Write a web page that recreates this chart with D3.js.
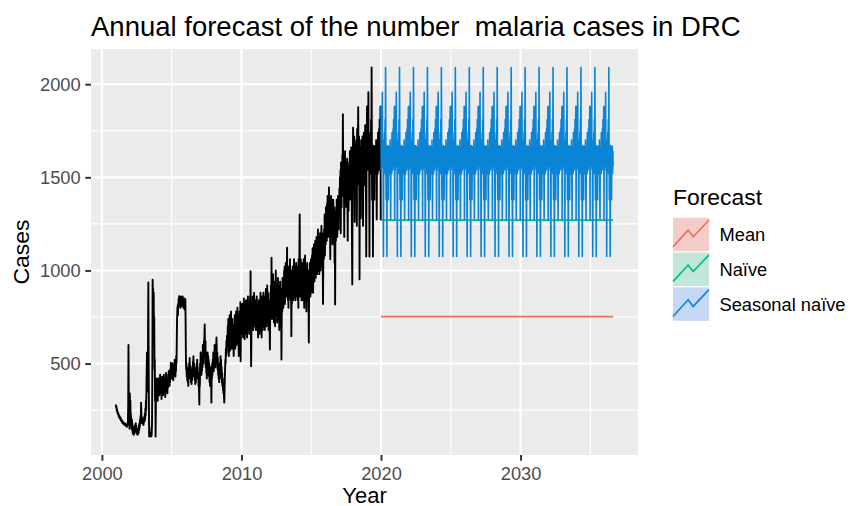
<!DOCTYPE html>
<html>
<head>
<meta charset="utf-8">
<script src="https://cdn.jsdelivr.net/npm/d3@7"></script>
<style>
  html, body { margin: 0; padding: 0; background: #ffffff; }
  svg { display: block; font-family: "Liberation Sans", Arial, sans-serif; }
</style>
</head>
<body>
<svg id="chart" width="850" height="506"></svg>
<script>
// Weekly malaria cases in the DRC, one array per year (52 weeks each)
const startYear = 2001;
const weeksPerYear = 52;

const cases2001 = [280,265,270,250,255,240,245,230,236,225,230,215,222,
  210,218,205,212,200,208,195,200,190,196,185,192,180,
  188,178,185,175,182,172,180,170,176,168,175,165,172,
  162,170,160,175,168,182,190,280,600,350,240,180,150];
const cases2002 = [340,260,300,200,230,170,190,150,200,140,175,125,160,
  120,150,118,140,125,160,135,170,140,180,150,165,130,
  150,120,140,118,135,122,150,130,170,145,180,160,200,
  175,220,190,290,240,200,180,210,185,200,175,190,170];
const cases2003 = [200,185,215,190,230,200,260,220,300,250,380,470,560,
  420,500,350,700,935,600,300,108,160,120,110,130,115,
  120,108,125,112,140,200,500,950,860,900,700,880,600,
  750,470,520,300,400,108,250,380,320,420,360,400,350];
const cases2004 = [300,380,340,420,360,400,330,390,350,440,380,420,340,
  400,310,380,350,430,370,410,330,390,360,440,380,420,
  350,400,320,380,360,450,390,420,360,410,340,400,370,
  440,390,460,410,430,380,450,400,470,420,505,440,480];
const cases2005 = [420,470,450,500,430,480,410,460,440,490,470,520,450,
  500,430,480,460,540,505,620,737,780,808,760,820,800,
  850,830,862,810,845,830,850,800,860,820,845,835,855,
  810,840,860,830,850,800,845,820,850,790,830,800,845];
const cases2006 = [700,539,470,500,430,480,410,460,400,450,380,470,420,
  500,440,530,460,490,420,470,400,440,390,460,410,480,
  430,510,450,540,470,500,430,480,410,460,390,440,400,
  470,420,500,440,520,460,480,420,450,380,420,350,280];
const cases2007 = [420,380,500,450,560,480,520,440,500,460,540,480,600,
  520,580,500,620,560,650,710,600,540,620,480,560,450,
  520,420,500,440,560,480,540,470,520,430,500,400,470,
  380,450,400,480,420,290,460,420,500,440,520,480,560];
const cases2008 = [520,460,560,500,600,540,580,480,560,520,600,640,560,
  500,560,470,530,440,500,420,480,400,460,420,500,450,
  540,480,520,430,480,400,450,380,420,360,400,340,380,
  320,290,360,420,470,520,500,580,540,620,560,650,600];
const cases2009 = [600,700,620,740,660,540,700,600,760,680,570,720,630,
  780,690,580,680,600,740,650,710,580,680,540,650,700,
  600,760,670,580,720,620,780,690,600,740,650,800,700,
  620,760,670,540,720,640,780,690,580,830,512,700,760];
const cases2010 = [660,780,700,820,680,760,640,800,720,850,680,780,630,
  820,700,760,660,840,740,680,800,640,780,700,860,720,
  800,680,760,660,820,720,860,760,996,680,485,640,760,
  680,820,720,860,760,680,820,740,880,780,700,840,760];
const cases2011 = [740,840,680,800,700,860,760,680,820,720,640,800,700,
  840,740,660,780,680,820,880,720,800,700,640,780,860,
  740,680,820,720,880,760,700,860,780,680,760,840,720,
  900,780,700,860,740,920,800,720,880,760,680,840,740];
const cases2012 = [800,680,575,760,880,780,920,740,1068,800,960,740,880,
  800,980,760,900,720,940,780,880,700,920,800,1000,840,
  760,920,800,720,900,780,960,840,740,920,800,680,880,
  760,940,820,740,900,780,522,740,880,780,960,840,920];
const cases2013 = [800,940,840,1000,880,1020,820,960,860,1040,900,980,860,
  960,1122,880,1000,840,960,800,1020,900,860,980,880,1060,
  920,840,1000,880,647,920,820,980,860,1020,900,840,1000,
  880,1060,940,860,1020,900,840,980,860,1040,920,860,1000];
const cases2014 = [880,1020,840,980,800,1060,880,1000,1100,1301,980,860,980,
  1060,880,1000,840,1040,920,860,1020,900,840,980,1060,880,
  800,1000,880,1080,920,840,1020,900,780,980,860,1040,920,
  840,1000,880,820,613,880,980,860,1040,920,860,1000,1060];
const cases2015 = [880,1020,920,1080,960,1120,1000,880,1100,980,1140,1020,940,
  1120,980,1160,1040,960,1140,1020,1180,1060,980,1160,1040,1220,
  1080,1000,1180,1060,980,1160,1040,1200,1080,1000,1170,1060,1240,
  1100,1020,1200,1080,1000,820,1080,1180,1060,1220,1120,1301,1080];
const cases2016 = [1180,1300,1140,1340,1200,1320,1160,1360,1240,1400,1260,1180,1360,
  1240,1446,1280,1200,1380,1260,1060,1360,1240,1400,1280,1200,1380,
  1260,1140,1340,1220,1380,1260,1180,1340,1220,1040,1320,817,1180,
  1300,1160,1340,1220,1380,1260,1180,1360,1240,1400,1280,1220,1380];
const cases2017 = [1280,1440,1320,1500,1360,1540,1200,1580,1440,1340,1520,1400,1620,
  1460,1839,1530,1400,1600,1460,1180,1560,1420,1640,1480,1380,1580,
  1440,1340,1540,1400,1600,1460,1160,1560,1420,1320,1520,1380,1580,
  1440,1640,1480,1380,1580,1440,1660,1500,1400,1100,925,1380,1580];
const cases2018 = [1767,1480,1660,1420,1720,1540,1260,1680,1500,1400,1620,1480,1700,
  1540,1240,1760,1580,1480,1700,1876,1580,1460,1720,1540,952,1480,
  1660,1420,1620,1280,1700,1520,1420,1640,1500,1720,1560,1240,1660,
  1520,1740,1580,1460,1680,1540,1780,1600,1480,1400,1075,1540,1720];
const cases2019 = [1880,1540,1820,1600,1700,1957,1560,1660,1520,1075,1600,1700,1540,
  1740,1600,1810,1520,2090,1620,1380,1660,1540,1075,1580,1670,1510,
  1640,1380,1600,1540,1667,1520,1640,1560,1700,1530,1274,1620,1540,
  1660,1520,1740,1580,1650,1540,1760,1600,1810,1560,1700,1880,1270];

// Forecast settings
const horizonWeeks = 866;
const meanForecast = 752;     // mean of the history
const naiveForecast = 1270;   // last observed week

const methods = ["Mean", "Naïve", "Seasonal naïve"];
const methodColors = ["#EE6E60", "#00BF7D", "#0A84D4"];
const methodFills = ["rgba(248,118,109,0.3)", "rgba(0,191,125,0.2)", "rgba(97,156,255,0.3)"];

const xTicks = [2000, 2010, 2020, 2030];
const yTicks = [500, 1000, 1500, 2000];

const titleText = "Annual forecast of the number  malaria cases in DRC";
const xTitle = "Year";
const yTitle = "Cases";
const legendTitle = "Forecast";

// ---- assemble series ----
const observed = [].concat(cases2001, cases2002, cases2003, cases2004, cases2005,
  cases2006, cases2007, cases2008, cases2009, cases2010, cases2011, cases2012,
  cases2013, cases2014, cases2015, cases2016, cases2017, cases2018, cases2019);
const nObs = observed.length;
const timeOf = i => startYear + i / weeksPerYear;

const history = observed.map((v, i) => ({ t: timeOf(i), v }));
const lastSeason = observed.slice(nObs - weeksPerYear);
const horizon = d3.range(horizonWeeks);
const fcMean = horizon.map(h => ({ t: timeOf(nObs + h), v: meanForecast }));
const fcNaive = horizon.map(h => ({ t: timeOf(nObs + h), v: naiveForecast }));
const fcSeasonal = horizon.map(h => ({ t: timeOf(nObs + h), v: lastSeason[h % weeksPerYear] }));
const forecasts = [fcMean, fcNaive, fcSeasonal];

// ---- layout ----
const svg = d3.select("#chart");
const panel = { left: 91, right: 638, top: 49, bottom: 455 };

function expand(ext, f) { const d = (ext[1] - ext[0]) * f; return [ext[0] - d, ext[1] + d]; }
const allT = history.concat(fcSeasonal).map(d => d.t);
const allV = history.concat(fcSeasonal, fcMean, fcNaive).map(d => d.v);

const x = d3.scaleLinear().domain(expand(d3.extent(allT), 0.05)).range([panel.left, panel.right]);
const y = d3.scaleLinear().domain(expand(d3.extent(allV), 0.05)).range([panel.bottom, panel.top]);

function minorBreaks(major, domain) {
  const step = major[1] - major[0];
  const ext = [major[0] - step].concat(major, [major[major.length - 1] + step]);
  const out = [];
  for (let i = 0; i < ext.length - 1; i++) out.push((ext[i] + ext[i + 1]) / 2);
  return out.filter(v => v >= domain[0] && v <= domain[1]);
}

// panel background
svg.append("rect")
  .attr("x", panel.left).attr("y", panel.top)
  .attr("width", panel.right - panel.left).attr("height", panel.bottom - panel.top)
  .attr("fill", "#EBEBEB");

const grid = svg.append("g");
grid.selectAll(".vminor").data(minorBreaks(xTicks, x.domain())).join("line")
  .attr("x1", d => x(d)).attr("x2", d => x(d))
  .attr("y1", panel.top).attr("y2", panel.bottom)
  .attr("stroke", "#fff").attr("stroke-width", 1.1);
grid.selectAll(".hminor").data(minorBreaks(yTicks, y.domain())).join("line")
  .attr("y1", d => y(d)).attr("y2", d => y(d))
  .attr("x1", panel.left).attr("x2", panel.right)
  .attr("stroke", "#fff").attr("stroke-width", 1.1);
grid.selectAll(".vmajor").data(xTicks).join("line")
  .attr("x1", d => x(d)).attr("x2", d => x(d))
  .attr("y1", panel.top).attr("y2", panel.bottom)
  .attr("stroke", "#fff").attr("stroke-width", 2.1);
grid.selectAll(".hmajor").data(yTicks).join("line")
  .attr("y1", d => y(d)).attr("y2", d => y(d))
  .attr("x1", panel.left).attr("x2", panel.right)
  .attr("stroke", "#fff").attr("stroke-width", 2.1);

// series
const line = d3.line().x(d => x(d.t)).y(d => y(d.v));
svg.append("path").datum(history)
  .attr("d", line).attr("fill", "none")
  .attr("stroke", "#000").attr("stroke-width", 1.9).attr("stroke-linejoin", "round");
forecasts.forEach((s, i) => {
  svg.append("path").datum(s)
    .attr("d", line).attr("fill", "none")
    .attr("stroke", methodColors[i]).attr("stroke-width", 1.6).attr("stroke-linejoin", "round");
});

// axes
const axisFont = 18.3;
const xAxis = svg.append("g").attr("transform", `translate(0,${panel.bottom})`)
  .call(d3.axisBottom(x).tickValues(xTicks).tickFormat(d3.format("d")).tickSize(5.7).tickPadding(6.5));
const yAxis = svg.append("g").attr("transform", `translate(${panel.left},0)`)
  .call(d3.axisLeft(y).tickValues(yTicks).tickFormat(d3.format("d")).tickSize(5.7).tickPadding(4.6));
[xAxis, yAxis].forEach(a => {
  a.select(".domain").remove();
  a.selectAll(".tick line").attr("stroke", "#333333").attr("stroke-width", 2);
  a.selectAll(".tick text").attr("fill", "#4D4D4D")
    .style("font-size", axisFont + "px").style("font-family", "'Liberation Sans', Arial, sans-serif");
});

// titles
svg.append("text").attr("x", panel.left).attr("y", 36)
  .style("font-size", "27.5px").style("white-space", "pre").attr("xml:space", "preserve")
  .attr("fill", "#000").text(titleText);
svg.append("text").attr("x", (panel.left + panel.right) / 2).attr("y", 502.5)
  .attr("text-anchor", "middle").style("font-size", "22px").attr("fill", "#000").text(xTitle);
svg.append("text").attr("transform", `translate(29,${(panel.top + panel.bottom) / 2}) rotate(-90)`)
  .attr("text-anchor", "middle").style("font-size", "22.9px").attr("fill", "#000").text(yTitle);

// legend
const legend = svg.append("g").attr("transform", "translate(673,0)");
legend.append("text").attr("x", 0).attr("y", 205).style("font-size", "22.9px").attr("fill", "#000").text(legendTitle);
const keyW = 36, keyH = 33.5, keyStep = 34.8, keyTop = 217.7;
methods.forEach((m, i) => {
  const g = legend.append("g").attr("transform", `translate(0,${keyTop + i * keyStep})`);
  g.append("rect").attr("width", keyW).attr("height", keyH).attr("fill", "#F2F2F2");
  g.append("rect").attr("width", keyW).attr("height", keyH).attr("fill", methodFills[i]);
  g.append("path")
    .attr("d", d3.line()([[0, keyH * 0.87], [keyW * 0.42, keyH * 0.37], [keyW * 0.56, keyH * 0.57], [keyW, keyH * 0.07]]))
    .attr("fill", "none").attr("stroke", methodColors[i]).attr("stroke-width", 1.6);
  g.append("text").attr("x", 46.5).attr("y", keyH / 2 + 6.5)
    .style("font-size", "18.3px").attr("fill", "#000").text(m);
});
</script>
</body>
</html>
